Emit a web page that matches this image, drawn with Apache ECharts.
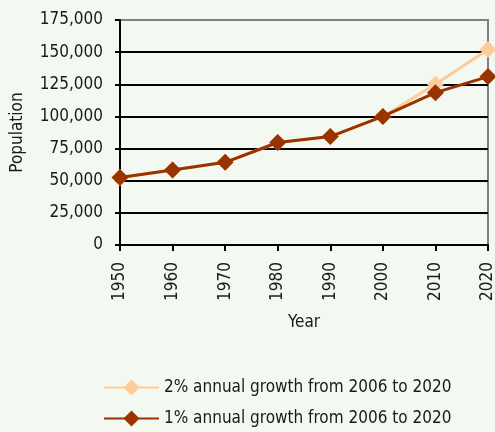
<!DOCTYPE html>
<html>
<head>
<meta charset="utf-8">
<script src="https://cdn.jsdelivr.net/npm/echarts@6/dist/echarts.min.js"></script>
<style>
  html, body { margin: 0; padding: 0; background: #f3f8f0; }
  #chart { width: 495px; height: 432px; }
</style>
</head>
<body>
<div id="chart"></div>
<script>
// years on the x axis
var years = ["1950", "1960", "1970", "1980", "1990", "2000", "2010", "2020"];
// population, 2% annual growth from 2006
var growth2 = [52500, 58300, 64300, 79700, 84300, 100000, 125000, 152000];
// population, 1% annual growth from 2006
var growth1 = [52500, 58300, 64300, 79700, 84300, 100000, 118500, 131000];
var yTicks = [0, 175000, 25000]; // min, max, interval

var font = "'DejaVu Sans Condensed', 'Liberation Sans', sans-serif";
var chart = echarts.init(document.getElementById("chart"));

var option = {
  backgroundColor: "#f3f8f0",
  animation: false,
  textStyle: { fontFamily: font },
  grid: {
    left: 120,
    right: 7,
    top: 20,
    bottom: 187,
    outerBoundsMode: "none",
    containLabel: false,
    show: true,
    borderColor: "#808080",
    borderWidth: 2,
    backgroundColor: "transparent"
  },
  legend: {
    orient: "vertical",
    left: 98,
    top: 374,
    itemWidth: 55,
    itemHeight: 20,
    itemGap: 14,
    textStyle: { fontFamily: font, fontSize: 17, color: "#1a1a1a" },
    data: ["2% annual growth from 2006 to 2020", "1% annual growth from 2006 to 2020"]
  },
  xAxis: {
    type: "category",
    data: years,
    boundaryGap: false,
    name: "Year",
    nameLocation: "middle",
    nameGap: 69,
    nameTextStyle: { fontFamily: font, fontSize: 17, color: "#1a1a1a" },
    axisLine: { lineStyle: { color: "#000", width: 2 } },
    axisTick: { show: true, length: 6, lineStyle: { color: "#000", width: 2 } },
    axisLabel: { rotate: 90, margin: 17, fontFamily: font, fontSize: 17, color: "#1a1a1a" },
    splitLine: { show: false }
  },
  yAxis: {
    type: "value",
    min: yTicks[0],
    max: yTicks[1],
    interval: yTicks[2],
    name: "Population",
    nameLocation: "middle",
    nameGap: 94,
    nameTextStyle: { fontFamily: font, fontSize: 17, color: "#1a1a1a" },
    axisLine: { show: true, lineStyle: { color: "#000", width: 2 } },
    axisTick: { show: true, length: 5, lineStyle: { color: "#000", width: 2 } },
    axisLabel: {
      margin: 17,
      fontFamily: font,
      fontSize: 17,
      color: "#1a1a1a",
      formatter: function (v) { return v.toLocaleString("en-US"); }
    },
    splitLine: { show: true, showMaxLine: false, lineStyle: { color: "#000", width: 2 } }
  },
  series: [
    {
      name: "2% annual growth from 2006 to 2020",
      type: "line",
      data: growth2,
      symbol: "diamond",
      symbolSize: 17,
      z: 2,
      lineStyle: { color: "#ffcc99", width: 3 },
      itemStyle: { color: "#ffcc99" }
    },
    {
      name: "1% annual growth from 2006 to 2020",
      type: "line",
      data: growth1,
      symbol: "diamond",
      symbolSize: 17,
      z: 3,
      lineStyle: { color: "#993300", width: 3 },
      itemStyle: { color: "#993300" }
    }
  ]
};

chart.setOption(option);
</script>
</body>
</html>
